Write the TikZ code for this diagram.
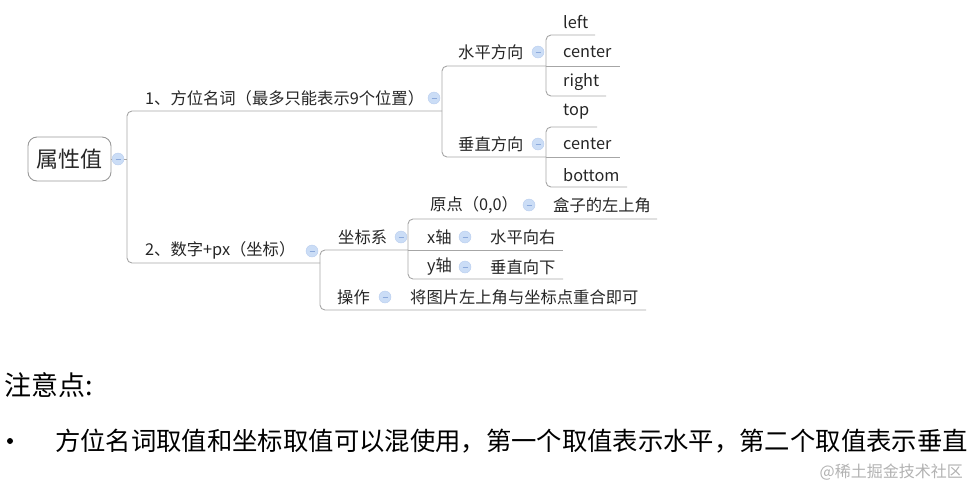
\documentclass[tikz,border=0pt]{standalone}
\usepackage{fontspec}
\setmainfont{Noto Sans CJK SC}
\definecolor{collfill}{RGB}{203,221,246}
\definecolor{colldraw}{RGB}{185,205,238}
\definecolor{collbar}{RGB}{140,170,220}
\begin{document}
\begin{tikzpicture}[x=1pt,y=-1pt,
  ln/.style={draw=black!35, line width=0.9pt, rounded corners=5pt},
  lbl/.style={anchor=west, inner sep=0pt, text=black!85, font=\fontsize{16.3}{16}\selectfont},
  coll/.style={circle, minimum size=12pt, inner sep=0pt, fill=collfill, draw=colldraw, line width=0.4pt,
    path picture={\draw[collbar, line width=0.7pt] ([xshift=-2.5pt]path picture bounding box.center) -- ([xshift=2.5pt]path picture bounding box.center);}},
  rootbox/.style={draw=black!40, line width=0.9pt, rounded corners=9pt, minimum width=83pt, minimum height=44pt, inner sep=0pt, text=black!85, font=\fontsize{22}{22}\selectfont}
]
\useasboundingbox (0,0) rectangle (967,491);

% root
\node[rootbox] (root) at (69.5,159) {属性值};
\node[coll] (c0) at (118,159) {};
\draw[ln] (root.east) -- (c0.west);
\coordinate (m0) at (127,159);
\draw[ln] (c0.east) -- (m0);

% main bracket
\coordinate (b1) at (442,111);
\coordinate (b2) at (320,263);
\draw[ln] (b1) -- (127,111) -- (127,263) -- (b2);

% branch 1
\node[lbl] (n1) at (145,98) {1、方位名词（最多只能表示9个位置）};
\node[coll] (c1) at (434,98) {};
\draw[ln] (546,66) -- (442,66) -- (442,157) -- (546,157);

\node[lbl] (n11) at (458,52) {水平方向};
\node[coll] (c11) at (538,52) {};
\node[lbl] (n12) at (458,144) {垂直方向};
\node[coll] (c12) at (538,144) {};

\node[lbl] (l1) at (563,22) {left};
\node[lbl] (l2) at (563,52) {center};
\node[lbl] (l3) at (563,82) {right};
\draw[ln] (595,35) -- (546,35) -- (546,96) -- (606,96);
\draw[ln] (546,66) -- (620,66);

\node[lbl] (v1) at (563,112) {top};
\node[lbl] (v2) at (563,144) {center};
\node[lbl] (v3) at (563,175) {bottom};
\draw[ln] (597,127) -- (546,127) -- (546,187) -- (627,187);
\draw[ln] (546,157) -- (620,157);

% branch 2
\node[lbl] (n2) at (145,250) {2、数字+px（坐标）};
\node[coll] (c2) at (312,251) {};
\draw[ln] (408,250) -- (320,250) -- (320,310) -- (646,310);

\node[lbl] (n21) at (338,237) {坐标系};
\node[coll] (c21) at (401,237) {};
\node[lbl] (n22) at (337,297) {操作};
\node[coll] (c22) at (385,297) {};
\node[lbl] (n22a) at (410,297) {将图片左上角与坐标点重合即可};

\draw[ln] (657,219) -- (408,219) -- (408,279) -- (563,279);
\draw[ln] (408,250) -- (563,250);

\node[lbl] (o1) at (430,205) {原点（0,0）};
\node[coll] (co1) at (529,205) {};
\node[lbl] (o1a) at (553,205) {盒子的左上角};
\node[lbl] (o2) at (427,237) {x轴};
\node[coll] (co2) at (465,237) {};
\node[lbl] (o2a) at (490,237) {水平向右};
\node[lbl] (o3) at (427,267) {y轴};
\node[coll] (co3) at (465,267) {};
\node[lbl] (o3a) at (490,267) {垂直向下};

% notes
\node[anchor=west, inner sep=0pt, font=\fontsize{27}{27}\selectfont] (note) at (4,385) {注意点:};
\fill (10,441) circle (3pt);
\node[anchor=west, inner sep=0pt, font=\fontsize{25.35}{25}\selectfont] (btxt) at (55,441) {方位名词取值和坐标取值可以混使用，第一个取值表示水平，第二个取值表示垂直};
\node[anchor=east, inner sep=0pt, text=black!30, font=\fontsize{16}{16}\selectfont] (wm) at (963,472) {@稀土掘金技术社区};
\end{tikzpicture}
\end{document}
